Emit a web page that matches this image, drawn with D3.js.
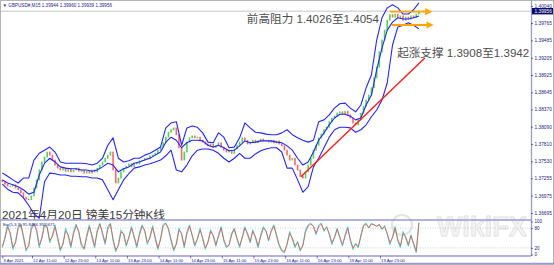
<!DOCTYPE html>
<html><head><meta charset="utf-8">
<script src="https://cdn.jsdelivr.net/npm/d3@7"></script>
<style>body{margin:0;background:#fff}svg{display:block}</style>
</head><body><svg id="c" width="554" height="265"></svg>
<script>
// ---------- data ----------
// Bollinger bands, one point every 2 hours (8 M15 bars)
const bandUpper = [1.3734,1.3729,1.3723,1.3718,1.3726,1.3726,1.3755,1.3766,1.3771,1.3776,
1.3768,1.3752,1.3750,1.3750,1.3750,1.3750,1.3749,1.3747,1.3750,1.3758,
1.3779,1.3791,1.3758,1.3752,1.3754,1.3758,1.3758,1.3763,1.3766,1.3771,
1.3776,1.3807,1.3815,1.3817,1.3779,1.3807,1.3810,1.3808,1.3799,1.3784,
1.3783,1.3799,1.3792,1.3775,1.3776,1.3791,1.3815,1.3807,1.3800,1.3799,
1.3797,1.3796,1.3796,1.3799,1.3804,1.3796,1.3791,1.3787,1.3784,1.3787,
1.3817,1.3820,1.3828,1.3839,1.3846,1.3847,1.3839,1.3833,1.3844,1.3872,
1.3893,1.3949,1.3985,1.4001,1.4006,1.4001,1.3991,1.3991,1.3998,1.4009];
const bandMiddle = [1.3723,1.3718,1.3715,1.3712,1.3707,1.3700,1.3703,1.3731,1.3750,1.3758,
1.3752,1.3744,1.3742,1.3741,1.3741,1.3739,1.3739,1.3737,1.3739,1.3744,
1.3750,1.3747,1.3736,1.3741,1.3744,1.3750,1.3752,1.3755,1.3758,1.3763,
1.3768,1.3784,1.3792,1.3787,1.3775,1.3783,1.3787,1.3787,1.3786,1.3779,
1.3776,1.3779,1.3775,1.3770,1.3771,1.3778,1.3786,1.3783,1.3784,1.3786,
1.3786,1.3786,1.3784,1.3783,1.3778,1.3771,1.3758,1.3747,1.3752,1.3768,
1.3787,1.3799,1.3812,1.3823,1.3829,1.3829,1.3826,1.3820,1.3823,1.3844,
1.3860,1.3901,1.3936,1.3965,1.3978,1.3985,1.3983,1.3983,1.3985,1.3988];
const bandLower = [1.3716,1.3708,1.3703,1.3702,1.3694,1.3682,1.3668,1.3661,1.3720,1.3734,
1.3733,1.3731,1.3731,1.3729,1.3729,1.3728,1.3728,1.3726,1.3726,1.3723,
1.3707,1.3691,1.3707,1.3723,1.3733,1.3742,1.3744,1.3747,1.3749,1.3752,
1.3755,1.3762,1.3771,1.3739,1.3736,1.3747,1.3762,1.3771,1.3773,1.3773,
1.3771,1.3766,1.3758,1.3752,1.3758,1.3766,1.3758,1.3758,1.3765,1.3770,
1.3773,1.3775,1.3775,1.3768,1.3742,1.3742,1.3723,1.3703,1.3712,1.3744,
1.3758,1.3775,1.3792,1.3804,1.3808,1.3808,1.3807,1.3800,1.3804,1.3812,
1.3825,1.3836,1.3852,1.3880,1.3941,1.3970,1.3973,1.3977,1.3973,1.3967];
// hourly closes (4 M15 bars each)
const closes = [1.3720,1.3716,1.3713,1.3713,1.3715,1.3710,1.3707,1.3702,1.3695,1.3692,
1.3691,1.3697,1.3710,1.3723,1.3739,1.3752,1.3760,1.3768,1.3763,1.3755,
1.3747,1.3742,1.3739,1.3742,1.3737,1.3741,1.3736,1.3739,1.3742,1.3737,
1.3739,1.3734,1.3737,1.3734,1.3739,1.3736,1.3742,1.3747,1.3752,1.3758,
1.3763,1.3768,1.3739,1.3718,1.3726,1.3736,1.3742,1.3745,1.3749,1.3744,
1.3750,1.3749,1.3754,1.3755,1.3758,1.3757,1.3762,1.3763,1.3766,1.3771,
1.3776,1.3783,1.3792,1.3800,1.3804,1.3807,1.3796,1.3775,1.3755,1.3768,
1.3784,1.3791,1.3794,1.3791,1.3792,1.3787,1.3784,1.3781,1.3778,1.3781,
1.3775,1.3778,1.3783,1.3776,1.3771,1.3768,1.3771,1.3766,1.3773,1.3779,
1.3784,1.3791,1.3787,1.3781,1.3784,1.3787,1.3783,1.3786,1.3789,1.3786,
1.3787,1.3784,1.3787,1.3783,1.3786,1.3781,1.3778,1.3771,1.3763,1.3755,
1.3758,1.3747,1.3739,1.3729,1.3726,1.3736,1.3747,1.3758,1.3771,1.3779,
1.3791,1.3797,1.3804,1.3808,1.3817,1.3823,1.3826,1.3831,1.3833,1.3829,
1.3834,1.3828,1.3823,1.3815,1.3812,1.3820,1.3831,1.3842,1.3852,1.3860,
1.3872,1.3888,1.3905,1.3930,1.3949,1.3965,1.3981,1.3990,1.3986,1.3991,
1.3985,1.3988,1.3981,1.3986,1.3983,1.3988,1.3985,1.3991,1.39956];
const firstOpen = 1.3723;
// stochastic (5,3,3), hourly
const stochMain = [20,55,90,60,15,40,85,92,50,10,
30,85,95,70,20,55,95,80,35,60,
90,45,10,35,80,55,20,70,92,65,
25,15,60,90,50,20,75,95,60,30,
85,95,40,8,30,75,60,25,55,85,
50,20,65,90,70,30,55,88,45,15,
50,92,95,75,40,10,35,80,60,20,
70,90,55,25,50,80,45,15,40,75,
55,25,60,85,40,20,30,65,80,45,
20,55,85,60,35,75,50,20,60,85,
70,40,75,90,55,25,10,5,35,70,
45,20,40,10,30,75,90,95,85,60,
90,95,70,85,60,30,55,80,50,25,
60,85,40,15,35,20,60,90,95,80,
95,90,85,92,75,88,60,30,55,85,
40,20,70,50,25,60,30,5,95.8466];
const stochSignal = [25,48,84,66,22,35,78,90,58,16,
24,76,92,76,28,48,88,84,42,54,
84,52,16,30,72,60,26,62,88,70,
32,18,52,84,58,26,68,92,66,36,
76,92,48,14,26,68,64,30,50,80,
56,26,58,86,74,36,50,82,52,20,
44,86,94,80,46,16,30,74,64,26,
62,86,60,30,46,74,50,20,36,70,
58,30,54,80,46,24,28,60,76,50,
26,50,80,64,40,70,54,26,54,80,
72,45,70,86,60,30,14,8,30,64,
50,26,36,14,26,68,86,92,86,64,
84,92,74,82,64,36,50,76,54,30,
54,80,46,20,30,24,54,86,92,82,
92,90,86,90,78,85,64,36,50,80,
46,26,64,54,30,56,34,10,95.5671];
const priceTicks = [1.40040,1.39765,1.39485,1.39205,1.38925,1.38645,1.38370,1.38090,1.37810,1.37530,1.37255,1.36975,1.36695];
const stochTicks = [100,80,20,0];
const stochLevels = [80,20];
const timeLabels = ["9 Apr 2021","12 Apr 11:00","12 Apr 23:00","13 Apr 11:00","13 Apr 23:00","14 Apr 11:00","14 Apr 23:00","15 Apr 11:00","15 Apr 23:00","16 Apr 11:00","16 Apr 23:00","19 Apr 11:00","19 Apr 23:00"];
const timeTickBars = [0,45,93,141,189,237,285,333,381,429,477,525,573];
const lastPrice = 1.39956;
const titleText = "\u25BC GBPUSD#,M15  1.39944 1.39960 1.39939 1.39956";
const stochText = "Sto(5,3,3) 95.8466 95.5671";
const resistanceArrows = [{from:588,to:647,price:1.39948},{from:591,to:649,price:1.39733}];
const supportLine = [{bar:453,price:1.3728},{bar:641,price:1.3920}];
const notes = [
  {text:"前高阻力 1.4026至1.4054", bar:371, price:1.3976},
  {text:"起涨支撑 1.3908至1.3942", bar:599, price:1.3922}
];
const chartTitle = "2021年4月20日 镑美15分钟K线";
const BAND_STEP = 8, HOUR_STEP = 4;

// ---------- drawing ----------
const svg = d3.select("#c");
const W = 554, H = 265, axisX = 531, mainBottom = 220, stochBottom = 256;
const navy = "#23238a", frame = "#9a9ad2";
const x = d3.scaleLinear().domain([45,573]).range([32,380]);
const y = d3.scaleLinear().domain([1.36695,1.40040]).range([213,6]);
const ys = d3.scaleLinear().domain([0,100]).range([254.5,221.5]);

svg.append("rect").attr("width",W).attr("height",H).attr("fill","#fff");

const defs = svg.append("defs");
defs.append("clipPath").attr("id","cm").append("rect").attr("x",0).attr("y",0).attr("width",axisX).attr("height",mainBottom);
defs.append("clipPath").attr("id","cs").append("rect").attr("x",0).attr("y",mainBottom+1).attr("width",axisX).attr("height",stochBottom-mainBottom-1);
defs.append("marker").attr("id","ah").attr("viewBox","0 0 10 10").attr("refX",5).attr("refY",5)
  .attr("markerWidth",4).attr("markerHeight",4).attr("orient","auto")
  .append("path").attr("d","M0,0L10,5L0,10z").attr("fill","#ffa500");

// watermark
svg.append("text").attr("x",437).attr("y",236).text("WikiFX")
  .attr("font-family","Liberation Sans, sans-serif").attr("font-weight","bold").attr("font-size",27)
  .attr("fill","#f4f4f4").attr("stroke","#e2e2e2").attr("stroke-width",0.8);
svg.append("circle").attr("cx",402).attr("cy",225).attr("r",10).attr("fill","none").attr("stroke","#e4e4e4").attr("stroke-width",2.2);

const gm = svg.append("g").attr("clip-path","url(#cm)");
// bid line
gm.append("line").attr("x1",0).attr("x2",axisX).attr("y1",y(lastPrice)).attr("y2",y(lastPrice))
  .attr("stroke","#b8b8c0").attr("stroke-width",0.8);

// candles
const opens = closes.map((c,i)=> i===0 ? firstOpen : closes[i-1]);
gm.append("g").selectAll("rect").data(closes).join("rect")
  .attr("x",(c,i)=>x(i*HOUR_STEP)-0.8).attr("width",1.6)
  .attr("y",(c,i)=>y(Math.max(c,opens[i]))-0.4)
  .attr("height",(c,i)=>Math.max(0.9,Math.abs(y(c)-y(opens[i]))+0.8))
  .attr("fill",(c,i)=> c>=opens[i] ? "#2fd02f" : "#ff4a4a").attr("opacity",0.85);

// bands
const bl = d3.line().x((d,i)=>x(i*BAND_STEP)).y(d=>y(d));
[bandUpper,bandMiddle,bandLower].forEach(b=>{
  gm.append("path").attr("d",bl(b)).attr("fill","none").attr("stroke","#2424ff").attr("stroke-width",1.1).attr("stroke-linejoin","round");
});

// support line
gm.append("line").attr("x1",x(supportLine[0].bar)).attr("y1",y(supportLine[0].price))
  .attr("x2",x(supportLine[1].bar)).attr("y2",y(supportLine[1].price))
  .attr("stroke","#ff1a1a").attr("stroke-width",1.4);

// resistance arrows
resistanceArrows.forEach(a=>{
  gm.append("line").attr("x1",x(a.from)).attr("x2",x(a.to)).attr("y1",y(a.price)).attr("y2",y(a.price))
    .attr("stroke","#ffa500").attr("stroke-width",1.8).attr("marker-end","url(#ah)");
});

// annotation texts
const cjk = "Liberation Sans, 'Noto Sans CJK SC', sans-serif";
notes.forEach(n=>{
  svg.append("text").attr("x",x(n.bar)).attr("y",y(n.price)).text(n.text)
    .attr("font-family",cjk).attr("font-size",11.6).attr("fill","#4e4e4e");
});
svg.append("text").attr("x",2).attr("y",219).text(chartTitle)
  .attr("font-family",cjk).attr("font-size",11.7).attr("fill","#3a3a3a");

// title
svg.append("text").attr("x",2.5).attr("y",7).text(titleText)
  .attr("font-family","Liberation Sans, sans-serif").attr("font-size",4.6).attr("fill",navy);

// stochastic panel
const gs = svg.append("g").attr("clip-path","url(#cs)");
stochLevels.forEach(v=>{
  gs.append("line").attr("x1",0).attr("x2",axisX).attr("y1",ys(v)).attr("y2",ys(v))
    .attr("stroke","#b0b0b8").attr("stroke-width",0.6).attr("stroke-dasharray","1,1.5");
});
const sl = d3.line().x((d,i)=>x(i*HOUR_STEP)).y(d=>ys(d));
gs.append("path").attr("d",sl(stochMain)).attr("fill","none").attr("stroke","#40e0d0").attr("stroke-width",1);
gs.append("path").attr("d",sl(stochSignal)).attr("fill","none").attr("stroke","#e0504a").attr("stroke-width",0.8);
svg.append("text").attr("x",2.5).attr("y",226).text(stochText)
  .attr("font-family","Liberation Sans, sans-serif").attr("font-size",4.3).attr("fill",navy);

// frame
svg.append("rect").attr("x",0.5).attr("y",0.5).attr("width",W-1).attr("height",H-1).attr("fill","none").attr("stroke","#b4b4b4");
[[0,mainBottom,axisX,mainBottom],[0,stochBottom,axisX,stochBottom],[0,H-1.5,W,H-1.5]].forEach(l=>{
  svg.append("line").attr("x1",l[0]).attr("y1",l[1]).attr("x2",l[2]).attr("y2",l[3]).attr("stroke",frame).attr("stroke-width",1.3);
});

// price axis
const pa = svg.append("g").attr("transform",`translate(${axisX},0)`)
  .call(d3.axisRight(y).tickValues(priceTicks).tickFormat(d3.format(".5f")).tickSize(2).tickPadding(1.5));
pa.select(".domain").attr("stroke",frame).attr("stroke-width",1.3).attr("d",`M0.5,0V${stochBottom}`);
pa.selectAll(".tick line").attr("stroke",navy).attr("stroke-width",0.6);
pa.selectAll("text").attr("font-size",4.8).attr("fill",navy).attr("font-family","Liberation Sans, sans-serif");

// current price tag
svg.append("rect").attr("x",axisX+1).attr("y",y(lastPrice)-3.2).attr("width",W-axisX-2).attr("height",6.4).attr("fill","#0c0c6c");
svg.append("text").attr("x",axisX+3.5).attr("y",y(lastPrice)).attr("dy","0.35em").text(d3.format(".5f")(lastPrice))
  .attr("font-size",4.8).attr("fill","#fff").attr("font-family","Liberation Sans, sans-serif");

// stoch axis
const sa = svg.append("g").attr("transform",`translate(${axisX},0)`)
  .call(d3.axisRight(ys).tickValues(stochTicks).tickSize(2).tickPadding(1.5));
sa.select(".domain").remove();
sa.selectAll(".tick line").attr("stroke",navy).attr("stroke-width",0.6);
sa.selectAll("text").attr("font-size",4.6).attr("fill",navy).attr("font-family","Liberation Sans, sans-serif");

// time axis
const ta = svg.append("g").attr("transform",`translate(0,${stochBottom})`)
  .call(d3.axisBottom(x).tickValues(timeTickBars).tickFormat((d,i)=>timeLabels[i]).tickSize(2.5).tickPadding(1));
ta.select(".domain").remove();
ta.selectAll(".tick line").attr("stroke",navy).attr("stroke-width",0.6);
ta.selectAll("text").attr("font-size",4.2).attr("fill",navy).attr("text-anchor","start").attr("dx","0.6")
  .attr("font-family","Liberation Sans, sans-serif");
</script></body></html>
